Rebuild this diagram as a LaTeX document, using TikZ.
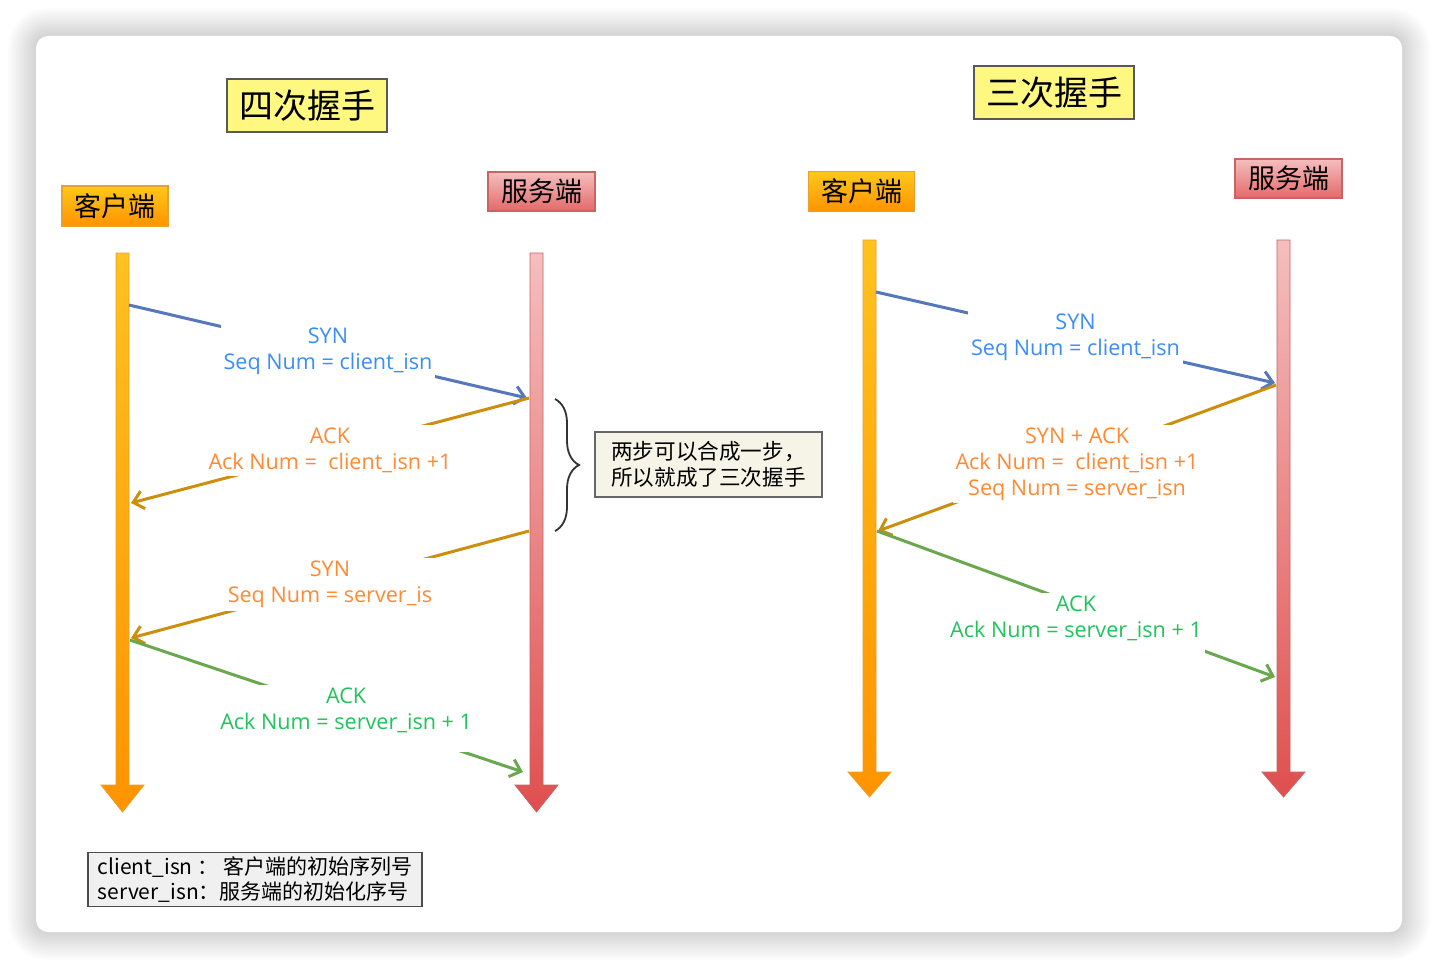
\documentclass[tikz,border=0pt]{standalone}
\usepackage{fontspec}
\setmainfont{Open Sans}
\newfontfamily\cjk{Noto Sans CJK SC}
\usetikzlibrary{arrows.meta, decorations.pathreplacing, positioning}

\definecolor{cltop}{HTML}{FFC21E}
\definecolor{clbot}{HTML}{FF9300}
\definecolor{cldraw}{HTML}{E8A030}
\definecolor{svtop}{HTML}{F5BEBE}
\definecolor{svbot}{HTML}{DF4F4F}
\definecolor{svdraw}{HTML}{C86464}
\definecolor{synblue}{HTML}{3A8EF6}
\definecolor{lnblue}{HTML}{5577BB}
\definecolor{ackorange}{HTML}{FF8A33}
\definecolor{lnorange}{HTML}{CC8E0C}
\definecolor{ackgreen}{HTML}{1FC45A}
\definecolor{lngreen}{HTML}{6AA84F}
\definecolor{notefill}{HTML}{F6F4E6}

\begin{document}
\begin{tikzpicture}[
    x=0.5pt, y=-0.5pt,
    cline/.style={top color=cltop, bottom color=clbot, draw=cldraw, line width=0.4pt},
    sline/.style={top color=svtop, bottom color=svbot, draw=svdraw, line width=0.4pt},
    cbox/.style={rectangle, top color=cltop!90!yellow, bottom color=clbot, draw=cldraw, line width=0.6pt, minimum width=53pt, minimum height=20pt, font=\cjk\fontsize{13.5}{15}\selectfont},
    sbox/.style={rectangle, top color=svtop, bottom color=svbot!85, draw=svdraw, line width=0.6pt, minimum width=53.5pt, minimum height=19.5pt, font=\cjk\fontsize{13.5}{15}\selectfont},
    tbox/.style={rectangle, fill=yellow!50, draw=black!65, line width=0.8pt, minimum width=80pt, minimum height=26.5pt, font=\cjk\fontsize{17}{18}\selectfont},
    msg/.style={fill=white, inner sep=1.5pt, align=center, font=\fontsize{10.8}{13}\selectfont},
    msgline/.style={line width=1.5pt, -{Straight Barb[length=5pt,width=9pt]}},
    twobrace/.style={decorate, decoration={brace, amplitude=12pt}, draw=black!80, line width=0.9pt},
    notebox/.style={rectangle, draw=black!60, fill=notefill, line width=0.6pt, align=left, minimum width=113.5pt, minimum height=32.5pt, font=\cjk\fontsize{10.8}{13}\selectfont},
    keybox/.style={rectangle, draw=black!70, fill=black!6, line width=0.6pt, align=left, minimum width=167pt, minimum height=26.5pt, inner sep=2pt, font=\cjk\fontsize{10.5}{12.5}\selectfont}
]
\useasboundingbox (0,0) rectangle (1438,968);
% card with soft shadow
\foreach \s in {1,...,14}
  \fill[black, opacity=0.012, rounded corners=6+\s] (36-2*\s,36-2*\s) rectangle (1402+2*\s,932+2*\s);
\fill[white, rounded corners=6pt] (36,36) rectangle (1402,932);

% titles and headers
\node[tbox] (ftitle) at (307,105.5) {四次握手};
\node[tbox] (ttitle) at (1054,92.5) {三次握手};
\node[cbox] (fcli) at (115,206) {客户端};
\node[sbox] (fsrv) at (541.5,191.5) {服务端};
\node[cbox] (tcli) at (861.5,191.5) {客户端};
\node[sbox] (tsrv) at (1288.5,178.5) {服务端};

% lifelines
\shade[cline] (116,253) -- (129,253) -- (129,785) -- (144,785) -- (122.5,812) -- (101,785) -- (116,785) -- cycle;
\shade[sline] (530,253) -- (543,253) -- (543,785) -- (558,785) -- (536.5,812) -- (515,785) -- (530,785) -- cycle;
\shade[cline] (863,240) -- (876,240) -- (876,772) -- (891,772) -- (869.5,797) -- (848,772) -- (863,772) -- cycle;
\shade[sline] (1277,240) -- (1290,240) -- (1290,772) -- (1305,772) -- (1283.5,797) -- (1262,772) -- (1277,772) -- cycle;

% four-way
\coordinate (fc1) at (129,305);
\coordinate (fs1) at (527,398);
\coordinate (fs2) at (529,398);
\coordinate (fc2) at (131,503);
\coordinate (fs3) at (529,531);
\coordinate (fc3) at (131,638);
\coordinate (fc4) at (130,640);
\coordinate (fs4) at (523,772);
\draw[msgline, lnblue] (fc1) -- node[msg, text=synblue] {SYN\\Seq Num = client\_isn} (fs1);
\draw[msgline, lnorange] (fs2) -- node[msg, text=ackorange] {ACK\\Ack Num =~~client\_isn +1} (fc2);
\draw[msgline, lnorange] (fs3) -- node[msg, text=ackorange] {SYN\\Seq Num = server\_is} (fc3);
\draw[msgline, lngreen] (fc4) -- node[msg, text=ackgreen, pos=0.55, yshift=-3pt] {ACK\\Ack Num = server\_isn + 1\\[-3pt]~} (fs4);

% merge note
\draw[twobrace] (555,399) -- (555,531);
\node[notebox] (note) at (708.5,464.5) {两步可以合成一步，\\所以就成了三次握手};

% three-way
\coordinate (tc1) at (876,292);
\coordinate (ts1) at (1275,383);
\coordinate (ts2) at (1276,385);
\coordinate (tc2) at (878,531);
\coordinate (tc3) at (877,531);
\coordinate (ts3) at (1275,677);
\draw[msgline, lnblue] (tc1) -- node[msg, text=synblue] {SYN\\Seq Num = client\_isn} (ts1);
\draw[msgline, lnorange] (ts2) -- node[msg, text=ackorange, yshift=-3pt] {SYN + ACK\\Ack Num =~~client\_isn +1\\Seq Num = server\_isn} (tc2);
\draw[msgline, lngreen] (tc3) -- node[msg, text=ackgreen, yshift=-11.5pt] {ACK\\Ack Num = server\_isn + 1\\[-3pt]~} (ts3);

% key
\node[keybox] (key) at (255,879.5) {client\_isn ： 客户端的初始序列号\\server\_isn：服务端的初始化序号};
\end{tikzpicture}
\end{document}
